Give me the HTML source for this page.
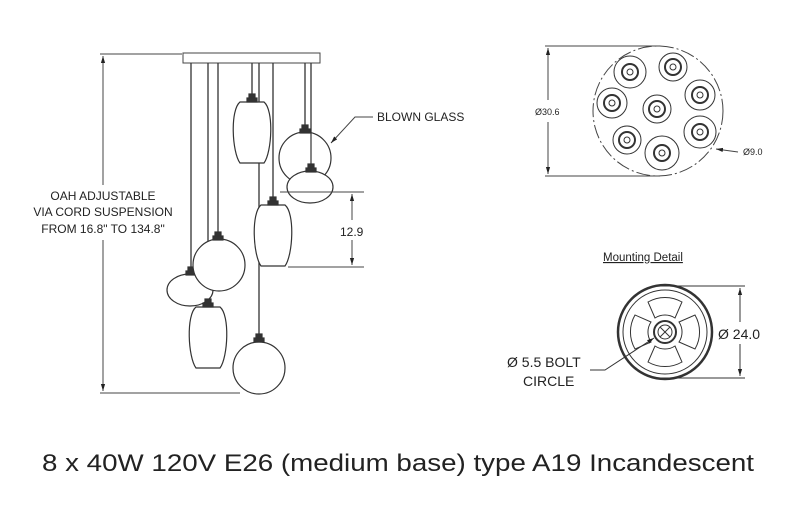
<!DOCTYPE html>
<html><head><style>html,body{margin:0;padding:0;background:#fff;width:800px;height:506px;overflow:hidden}</style></head>
<body>
<svg width="800" height="506" viewBox="0 0 800 506" xmlns="http://www.w3.org/2000/svg" font-family="Liberation Sans, sans-serif">
<defs>
<marker id="ar" viewBox="0 0 10 10" refX="10" refY="5" markerWidth="7" markerHeight="7" orient="auto-start-reverse"><path d="M0,2 L10,5 L0,8z" fill="#222"/></marker>
<g id="sock"><rect x="-3" y="-8" width="6" height="5" fill="#333"/><rect x="-5" y="-4" width="10" height="4" fill="#333"/></g>
<path id="oval" d="M-12,0 H12 C22,8 20,50 12,61 H-12 C-20,50 -22,8 -12,0Z" fill="#fff" stroke="#333" stroke-width="1.2"/>
</defs>
<g stroke="#444" stroke-width="1" fill="none">
<line x1="100" y1="54" x2="182" y2="54"/><line x1="100" y1="393" x2="240" y2="393"/>
<line x1="103" y1="56" x2="103" y2="185" marker-start="url(#ar)"/><line x1="103" y1="240" x2="103" y2="391" marker-end="url(#ar)"/>
<rect x="183" y="53" width="137" height="10" fill="#fff"/>
<g stroke="#333" stroke-width="1.3">
<line x1="191" y1="63" x2="191" y2="278"/><line x1="208" y1="63" x2="208" y2="300"/><line x1="218" y1="63" x2="218" y2="236"/>
<line x1="252" y1="63" x2="252" y2="95"/><line x1="259" y1="63" x2="259" y2="337"/><line x1="273" y1="63" x2="273" y2="200"/>
<line x1="305" y1="63" x2="305" y2="128"/><line x1="311" y1="63" x2="311" y2="163"/>
</g>
</g>
<g stroke="#333" stroke-width="1.2" fill="#fff">
<use href="#oval" x="252" y="102"/>
<use href="#sock" x="252" y="102"/>
<circle cx="305" cy="158" r="26"/><use href="#sock" x="305" y="133"/>
<line x1="311" y1="133" x2="311" y2="168"/>
<ellipse cx="310" cy="187" rx="23" ry="16"/><use href="#sock" x="311" y="172"/>
<use href="#oval" x="273" y="205"/><use href="#sock" x="273" y="205"/>
<ellipse cx="190" cy="290" rx="23" ry="16"/><use href="#sock" x="191" y="275"/>
<circle cx="219" cy="265" r="26"/><use href="#sock" x="218" y="240"/>
<use href="#oval" x="208" y="307"/><use href="#sock" x="208" y="307"/>
<circle cx="259" cy="368" r="26"/><use href="#sock" x="259" y="342"/>
</g>
<g stroke="#444" stroke-width="1" fill="none">
<polyline points="373,117 355,117 331,143" marker-end="url(#ar)"/>
<line x1="280" y1="192" x2="364" y2="192"/><line x1="288" y1="267" x2="364" y2="267"/>
<line x1="352" y1="194" x2="352" y2="220" marker-start="url(#ar)"/><line x1="352" y1="240" x2="352" y2="265" marker-end="url(#ar)"/>
<line x1="545" y1="46" x2="660" y2="46"/><line x1="545" y1="176" x2="660" y2="176"/>
<line x1="548" y1="48" x2="548" y2="100" marker-start="url(#ar)"/><line x1="548" y1="122" x2="548" y2="174" marker-end="url(#ar)"/>
<circle cx="658" cy="111" r="65" stroke-dasharray="14 3 2 3"/>
</g>
<g stroke="#333" fill="#fff" stroke-width="1">
<g transform="translate(630,72)"><circle r="16"/><circle r="8" stroke-width="2"/><circle r="3"/></g>
<g transform="translate(673,67)"><circle r="14"/><circle r="8" stroke-width="2"/><circle r="3"/></g>
<g transform="translate(700,95)"><circle r="15"/><circle r="8" stroke-width="2"/><circle r="3"/></g>
<g transform="translate(612,103)"><circle r="15"/><circle r="8" stroke-width="2"/><circle r="3"/></g>
<g transform="translate(657,109)"><circle r="14"/><circle r="8" stroke-width="2"/><circle r="3"/></g>
<g transform="translate(700,132)"><circle r="16"/><circle r="8" stroke-width="2"/><circle r="3"/></g>
<g transform="translate(627,140)"><circle r="14"/><circle r="8" stroke-width="2"/><circle r="3"/></g>
<g transform="translate(662,153)"><circle r="17"/><circle r="8" stroke-width="2"/><circle r="3"/></g>
</g>
<line x1="738" y1="152" x2="716" y2="149" stroke="#444" marker-end="url(#ar)"/>
<g stroke="#333" fill="none" stroke-width="1">
<circle cx="665" cy="332" r="47" stroke-width="2.5"/>
<circle cx="665" cy="332" r="42"/>
<path d="M648,302 A34,34 0 0 1 682,302 L675,318 A18,18 0 0 0 655,318Z"/>
<path d="M648,362 A34,34 0 0 0 682,362 L675,346 A18,18 0 0 1 655,346Z"/>
<path d="M635,315 A34,34 0 0 0 635,349 L651,342 A18,18 0 0 1 651,322Z"/>
<path d="M695,315 A34,34 0 0 1 695,349 L679,342 A18,18 0 0 0 679,322Z"/>
<circle cx="665" cy="332" r="11" stroke-width="2"/><circle cx="665" cy="332" r="7"/>
<line x1="660" y1="327" x2="670" y2="337"/><line x1="670" y1="327" x2="660" y2="337"/>
<line x1="660" y1="286" x2="745" y2="286"/><line x1="660" y1="378" x2="745" y2="378"/>
<line x1="740" y1="288" x2="740" y2="322" marker-start="url(#ar)"/><line x1="740" y1="344" x2="740" y2="376" marker-end="url(#ar)"/>
<polyline points="590,370 605,370 654,338" marker-end="url(#ar)"/>
</g>
<g fill="#222">
<text x="103" y="200" font-size="12" text-anchor="middle">OAH ADJUSTABLE</text>
<text x="103" y="216" font-size="12" text-anchor="middle">VIA CORD SUSPENSION</text>
<text x="103" y="233" font-size="12" text-anchor="middle">FROM 16.8" TO 134.8"</text>
<text x="377" y="121" font-size="12">BLOWN GLASS</text>
<text x="340" y="236" font-size="12">12.9</text>
<text x="535" y="115" font-size="9">Ø30.6</text>
<text x="743" y="155" font-size="9">Ø9.0</text>
<text x="603" y="261" font-size="11.5" text-decoration="underline">Mounting Detail</text>
<text x="718" y="339" font-size="14">Ø 24.0</text>
<text x="507" y="367" font-size="14">Ø 5.5 BOLT</text>
<text x="523" y="386" font-size="14">CIRCLE</text>
<text x="42" y="471" font-size="24" textLength="712" lengthAdjust="spacingAndGlyphs">8 x 40W 120V E26 (medium base) type A19 Incandescent</text>
</g>
</svg>
</body></html>
